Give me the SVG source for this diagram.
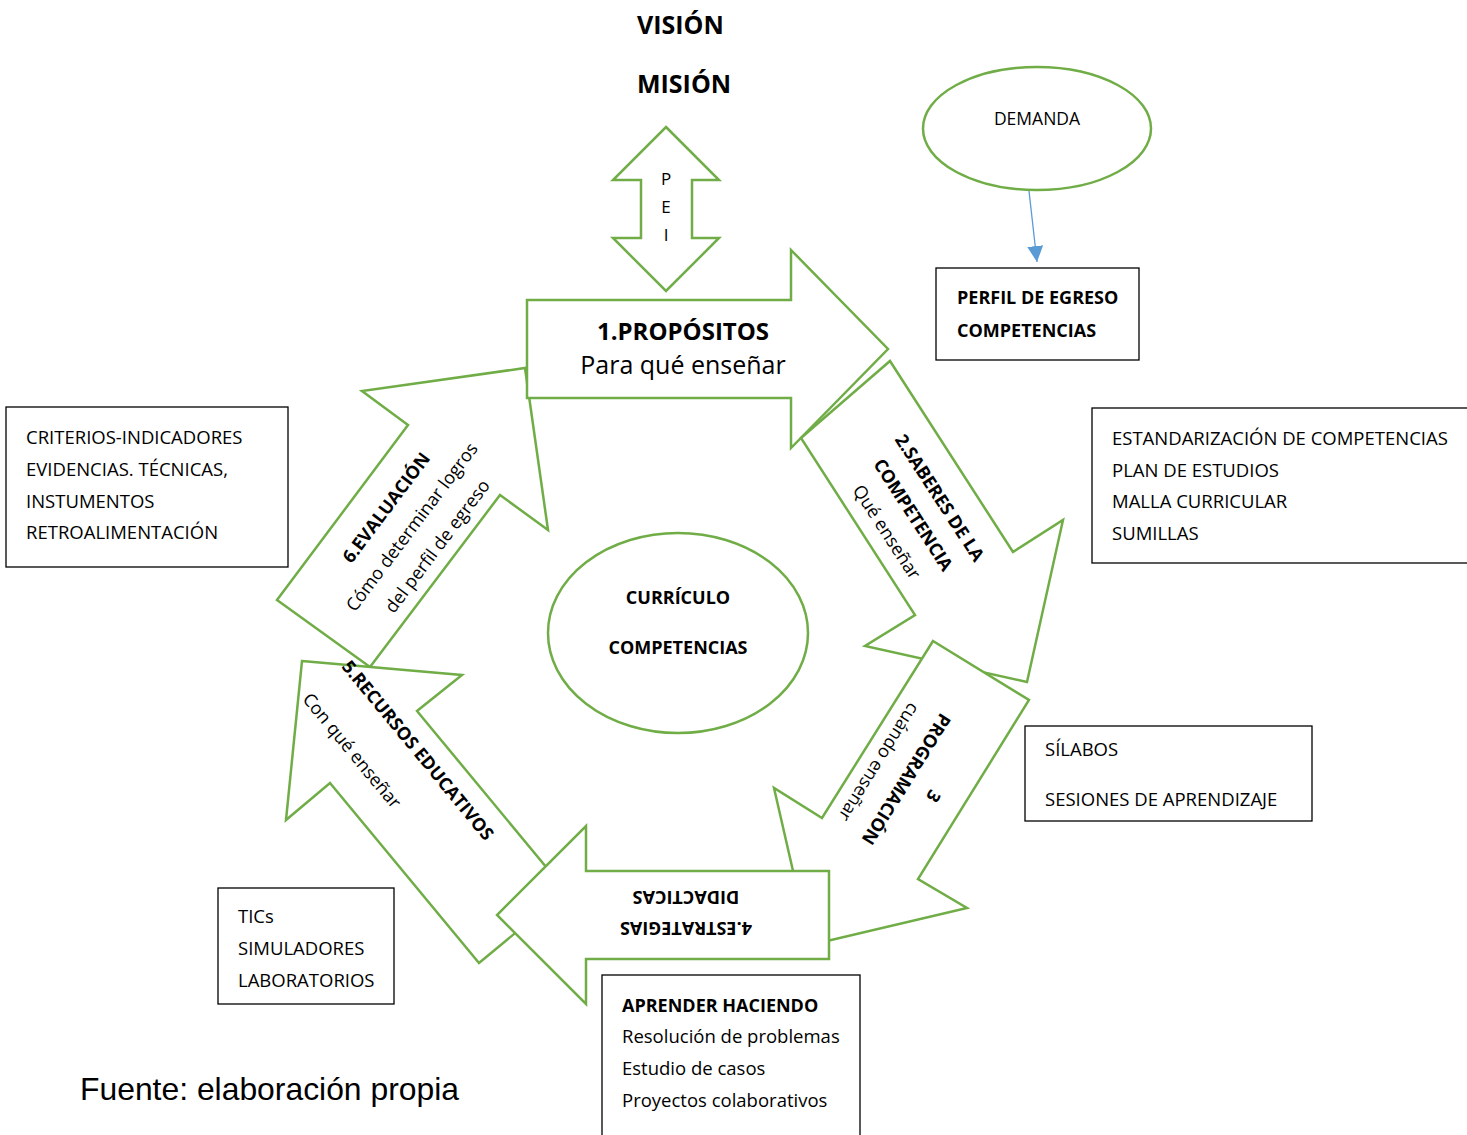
<svg xmlns="http://www.w3.org/2000/svg" width="1467" height="1135" viewBox="0 0 1467 1135">
  <defs>
    <style>
      .arrow { fill: #fff; stroke: #70AD47; stroke-width: 2.5; stroke-linejoin: miter; stroke-miterlimit: 10; }
      .oval { fill: #fff; stroke: #70AD47; stroke-width: 2.5; }
      .box { fill: #fff; stroke: #000; stroke-width: 1.3; }
      .t { font-family: "Open Sans", "Noto Sans", sans-serif; font-size: 18.5px; fill: #000; }
      .b { font-weight: bold; }
      .c { text-anchor: middle; }
      .link { stroke: #5B9BD5; stroke-width: 1.3; fill: none; }
    </style>
    <marker id="blueHead" viewBox="0 0 10 10" refX="10" refY="5" markerWidth="16" markerHeight="16" markerUnits="userSpaceOnUse" orient="auto">
      <path d="M0,0 L10,5 L0,10 Z" fill="#5B9BD5"/>
    </marker>
  </defs>

  <rect width="1467" height="1135" fill="#fff"/>

  <!-- Title -->
  <g id="vision-mision">
    <text class="t b" x="637" y="34" style="font-size:25px">VISIÓN</text>
    <text class="t b" x="637" y="93" style="font-size:25px">MISIÓN</text>
  </g>

  <!-- Double arrow PEI -->
  <g id="pei">
    <polygon class="arrow" points="666,127 719,180 692,180 692,238 719,238 666,291 613,238 641,238 641,180 613,180"/>
    <text class="t c" x="666" y="185" style="font-size:17px">P</text>
    <text class="t c" x="666" y="213" style="font-size:17px">E</text>
    <text class="t c" x="666" y="241" style="font-size:17px">I</text>
  </g>

  <!-- Cycle arrows -->
  <g id="evaluacion">
    <polygon class="arrow" points="370,667 277,600 408,425 362,391 525,368 548,530 500,495"/>
    <g transform="translate(412,527) rotate(-53)">
      <text class="t b c" x="0" y="-26" style="font-size:18px">6.EVALUACIÓN</text>
      <text class="t c" x="0" y="6" style="font-size:18px">Cómo determinar logros</text>
      <text class="t c" x="0" y="38" style="font-size:18px">del perfil de egreso</text>
    </g>
  </g>

  <g id="propositos">
    <polygon class="arrow" points="527,300 791,300 791,250 888,349 791,448 791,398 527,398"/>
    <text class="t b c" x="683" y="340" style="font-size:24px">1.PROPÓSITOS</text>
    <text class="t c" x="683" y="374" style="font-size:25px">Para qué enseñar</text>
  </g>

  <g id="saberes">
    <polygon class="arrow" points="890,361 1013,552 1063,520 1027,682 865,646 915,615 801,438"/>
    <g transform="translate(913,515) rotate(57)">
      <text class="t b c" x="0" y="-25.5" style="font-size:18px">2.SABERES DE LA</text>
      <text class="t b c" x="0" y="6" style="font-size:18px">COMPETENCIA</text>
      <text class="t c" x="0" y="37.5" style="font-size:18px">Qué enseñar</text>
    </g>
  </g>

  <g id="programacion">
    <polygon class="arrow" points="933,641 1029,700 918,879 967,908 810,945 774,788 822,818"/>
    <g transform="translate(906,779) rotate(122)">
      <text class="t b c" x="0" y="-26" style="font-size:18px">3</text>
      <text class="t b c" x="0" y="6" style="font-size:18px">PROGRAMACIÓN</text>
      <text class="t c" x="0" y="38" style="font-size:18px">cuándo enseñar</text>
    </g>
  </g>

  <g id="recursos">
    <polygon class="arrow" points="302,661 462,675 417,711 566,891 479,963 330,783 286,820"/>
    <g transform="translate(341,667) rotate(50.5)">
      <text class="t b" x="0" y="0" style="font-size:18px">5.RECURSOS EDUCATIVOS</text>
      <text class="t" x="0" y="51" style="font-size:18px">Con qué enseñar</text>
    </g>
  </g>

  <g id="estrategias">
    <polygon class="arrow" points="829,871 586,871 586,826 497,915 586,1004 586,959 829,959"/>
    <g transform="translate(686,913) rotate(180)">
      <text class="t b c" x="0" y="-9" style="font-size:18px">4.ESTRATEGIAS</text>
      <text class="t b c" x="0" y="22" style="font-size:18px">DIDACTICAS</text>
    </g>
  </g>

  <!-- Centre -->
  <g id="curriculo">
    <ellipse class="oval" cx="678" cy="633" rx="130" ry="100"/>
    <text class="t b c" x="678" y="604" style="font-size:18px">CURRÍCULO</text>
    <text class="t b c" x="678" y="654" style="font-size:18px">COMPETENCIAS</text>
  </g>

  <!-- Demand and graduate profile -->
  <g id="demanda">
    <ellipse class="oval" cx="1037" cy="128.5" rx="114" ry="61.5"/>
    <text class="t c" x="1037" y="125" style="font-size:17.5px">DEMANDA</text>
  </g>

  <g id="perfil">
    <rect class="box" x="936" y="268" width="203" height="92"/>
    <text class="t b" x="957" y="304" style="font-size:18px">PERFIL DE EGRESO</text>
    <text class="t b" x="957" y="337" style="font-size:18px">COMPETENCIAS</text>
  </g>

  <!-- Side boxes -->
  <g id="estandarizacion">
    <rect class="box" x="1092" y="408" width="385" height="155"/>
    <text class="t" x="1112" y="445">ESTANDARIZACIÓN DE COMPETENCIAS</text>
    <text class="t" x="1112" y="477">PLAN DE ESTUDIOS</text>
    <text class="t" x="1112" y="508">MALLA CURRICULAR</text>
    <text class="t" x="1112" y="540">SUMILLAS</text>
  </g>

  <g id="criterios">
    <rect class="box" x="6" y="407" width="282" height="160"/>
    <text class="t" x="26" y="444">CRITERIOS-INDICADORES</text>
    <text class="t" x="26" y="476">EVIDENCIAS. TÉCNICAS,</text>
    <text class="t" x="26" y="508">INSTUMENTOS</text>
    <text class="t" x="26" y="539">RETROALIMENTACIÓN</text>
  </g>

  <g id="silabos">
    <rect class="box" x="1025" y="726" width="287" height="95"/>
    <text class="t" x="1045" y="756">SÍLABOS</text>
    <text class="t" x="1045" y="806">SESIONES DE APRENDIZAJE</text>
  </g>

  <g id="tics">
    <rect class="box" x="218" y="888" width="176" height="116"/>
    <text class="t" x="238" y="923">TICs</text>
    <text class="t" x="238" y="955">SIMULADORES</text>
    <text class="t" x="238" y="987">LABORATORIOS</text>
  </g>

  <g id="aprender">
    <rect class="box" x="602" y="975" width="258" height="175"/>
    <text class="t b" x="622" y="1012" style="font-size:18px">APRENDER HACIENDO</text>
    <text class="t" x="622" y="1043">Resolución de problemas</text>
    <text class="t" x="622" y="1075">Estudio de casos</text>
    <text class="t" x="622" y="1107">Proyectos colaborativos</text>
  </g>

  <!-- Connectors -->
  <g id="connectors">
    <line class="link" x1="1029" y1="191" x2="1037" y2="262" marker-end="url(#blueHead)"/>
  </g>

  <text x="80" y="1100" textLength="379" lengthAdjust="spacingAndGlyphs" style="font-family:'Liberation Sans', Arial, sans-serif; font-size:31.5px; fill:#000">Fuente: elaboración propia</text>
</svg>
